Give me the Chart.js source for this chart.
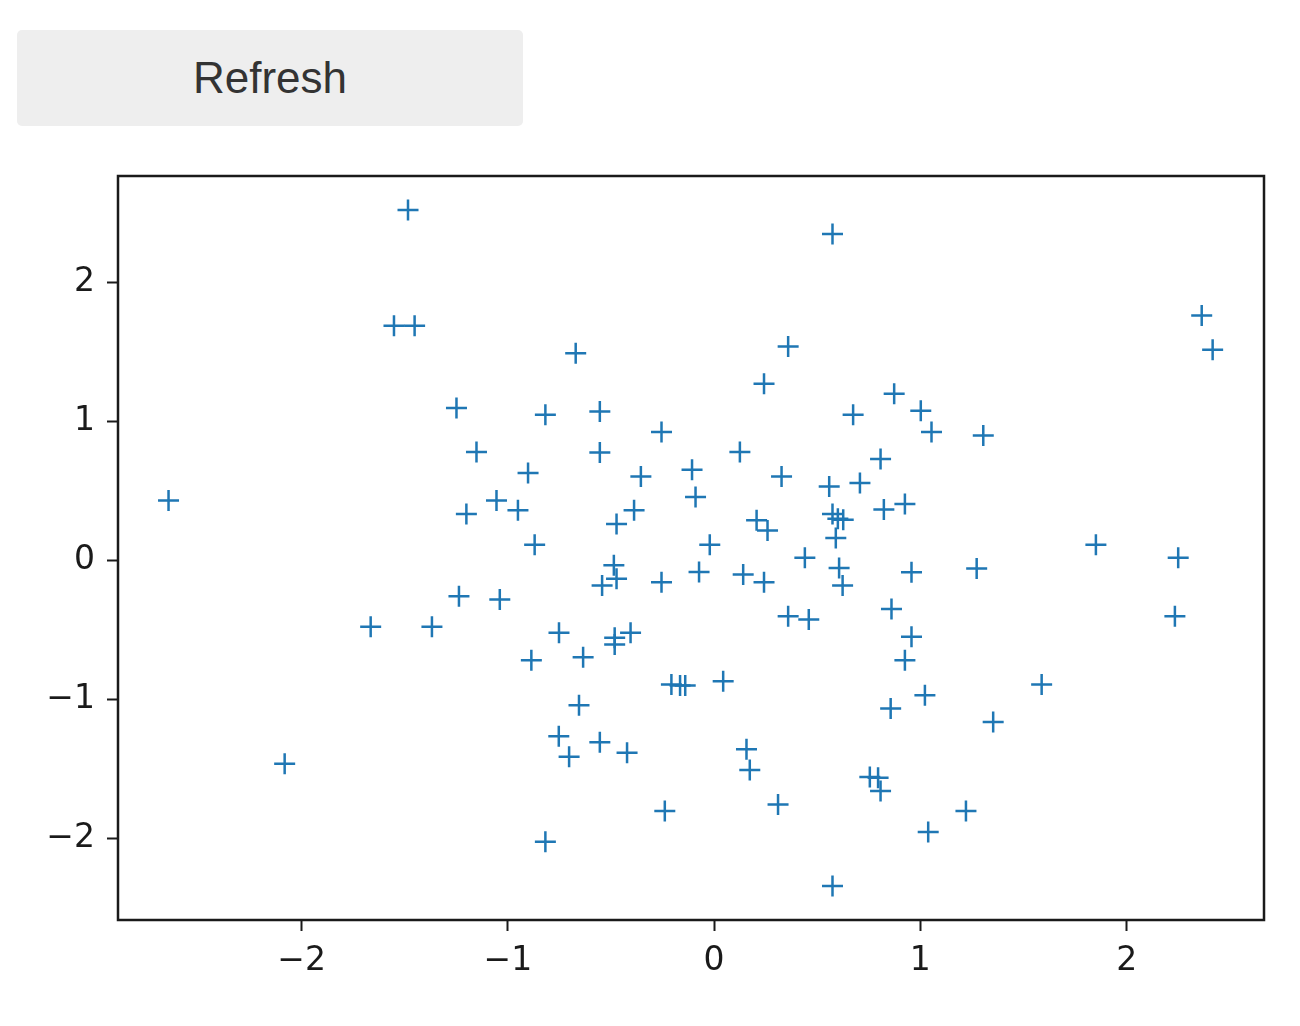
<!DOCTYPE html>
<html>
<head>
<meta charset="utf-8">
<script src="https://cdn.jsdelivr.net/npm/chart.js@4"></script>
<style>
    body { margin: 0; background: #ffffff; width: 1300px; height: 1026px; position: relative; overflow: hidden; }
    #refresh {
        position: absolute; left: 17px; top: 30px; width: 506px; height: 96px;
        background: #eeeeee; border: none; border-radius: 5px;
        font-family: "Liberation Sans", Arial, sans-serif; font-size: 44px; color: #333333;
        padding: 0; cursor: pointer;
    }
    #wrap { position: absolute; left: 0; top: 140px; width: 1300px; height: 886px; }
</style>
</head>
<body>
<button id="refresh">Refresh</button>
<div id="wrap"><canvas id="myChart"></canvas></div>
<script>
// scatter values
var xValues = [
    -1.484, -1.552, -1.452, -1.249, 0.574, -0.671, -0.818, -0.554, 0.359, 0.242,
    0.674, 0.873, 2.364, 2.417, 1.002, -1.152, -2.645, -1.055, -1.201, -1.237,
    -1.039, -1.665, -1.368, -0.255, -0.554, 0.125, -0.902, -0.355, -0.107, 0.327,
    0.807, 0.558, 0.707, -0.951, -0.090, -0.388, -0.473, -0.870, 0.206, 0.259,
    0.574, 0.600, 0.626, 0.590, -0.021, 0.440, -0.486, -0.473, -0.543, -0.255,
    -0.073, 0.141, 0.242, 0.606, 0.623, 0.860, 0.359, 0.459, -0.752, -0.405,
    -0.482, -0.482, -0.886, -0.635, 1.054, 1.305, 0.925, 0.823, 1.851, 2.250,
    0.957, 1.273, 2.234, 0.957, 0.925, -2.082, -0.207, -0.165, -0.140, 0.044,
    -0.655, 0.856, -0.753, -0.554, -0.703, -0.422, 0.157, 0.173, 0.755, 0.795,
    0.807, -0.239, 0.310, -0.818, 0.574, 1.022, 1.588, 1.353, 1.221, 1.038
];
var yValues = [
    2.521, 1.688, 1.688, 1.096, 2.348, 1.491, 1.048, 1.072, 1.539, 1.271,
    1.048, 1.199, 1.762, 1.515, 1.077, 0.780, 0.432, 0.432, 0.335, -0.257,
    -0.281, -0.477, -0.477, 0.924, 0.777, 0.780, 0.629, 0.605, 0.653, 0.605,
    0.730, 0.533, 0.557, 0.361, 0.457, 0.361, 0.263, 0.114, 0.289, 0.215,
    0.335, 0.300, 0.294, 0.162, 0.114, 0.019, -0.034, -0.132, -0.180, -0.157,
    -0.082, -0.101, -0.157, -0.053, -0.180, -0.348, -0.401, -0.425, -0.520, -0.520,
    -0.556, -0.604, -0.717, -0.695, 0.924, 0.899, 0.407, 0.366, 0.114, 0.019,
    -0.085, -0.058, -0.401, -0.549, -0.717, -1.461, -0.892, -0.899, -0.899, -0.868,
    -1.040, -1.064, -1.263, -1.306, -1.411, -1.382, -1.358, -1.507, -1.557, -1.562,
    -1.658, -1.802, -1.754, -2.022, -2.340, -0.968, -0.892, -1.162, -1.802, -1.952
];

// tick labels shown on the axes
var xTicks = [-2, -1, 0, 1, 2];
var yTicks = [-2, -1, 0, 1, 2];

var points = [];
for (var i = 0; i < xValues.length; i++) {
    points.push({ x: xValues[i], y: yValues[i] });
}

// matplotlib style minus sign
function tickLabel(v) {
    return v < 0 ? "\u2212" + Math.abs(v) : String(v);
}

// black box round the plot area
var frame = {
    id: "frame",
    afterDraw: function (chart) {
        var a = chart.chartArea;
        var ctx = chart.ctx;
        ctx.save();
        ctx.strokeStyle = "#1a1a1a";
        ctx.lineWidth = 2.5;
        ctx.strokeRect(a.left, a.top, a.right - a.left, a.bottom - a.top);
        ctx.restore();
    }
};

var axisFont = { family: "'DejaVu Sans', sans-serif", size: 33 };

var canvas = document.getElementById("myChart").getContext("2d");
var myChart = new Chart(canvas, {
    type: "scatter",
    data: {
        datasets: [{
            data: points,
            pointStyle: "cross",
            pointRadius: 10.5,
            pointHoverRadius: 10.5,
            borderWidth: 2.5,
            borderColor: "#1f77b4",
            backgroundColor: "#1f77b4"
        }]
    },
    plugins: [frame],
    options: {
        responsive: true,
        maintainAspectRatio: false,
        animation: false,
        layout: { padding: { top: 36, right: 36, left: 0, bottom: 0 } },
        plugins: {
            legend: { display: false },
            tooltip: { enabled: false }
        },
        scales: {
            x: {
                type: "linear",
                min: -2.89,
                max: 2.666,
                border: { display: false },
                grid: { drawOnChartArea: false, tickLength: 11, tickColor: "#1a1a1a", tickWidth: 2 },
                afterBuildTicks: function (scale) {
                    scale.ticks = xTicks.map(function (v) { return { value: v }; });
                },
                afterFit: function (scale) { scale.height = 106; },
                ticks: {
                    color: "#1a1a1a",
                    font: axisFont,
                    padding: 11,
                    maxRotation: 0,
                    callback: function (v) { return tickLabel(v); }
                }
            },
            y: {
                type: "linear",
                min: -2.585,
                max: 2.765,
                border: { display: false },
                grid: { drawOnChartArea: false, tickLength: 11, tickColor: "#1a1a1a", tickWidth: 2 },
                afterBuildTicks: function (scale) {
                    scale.ticks = yTicks.map(function (v) { return { value: v }; });
                },
                afterFit: function (scale) { scale.width = 118; },
                ticks: {
                    color: "#1a1a1a",
                    font: axisFont,
                    padding: 12,
                    callback: function (v) { return tickLabel(v); }
                }
            }
        }
    }
});
</script>
</body>
</html>
